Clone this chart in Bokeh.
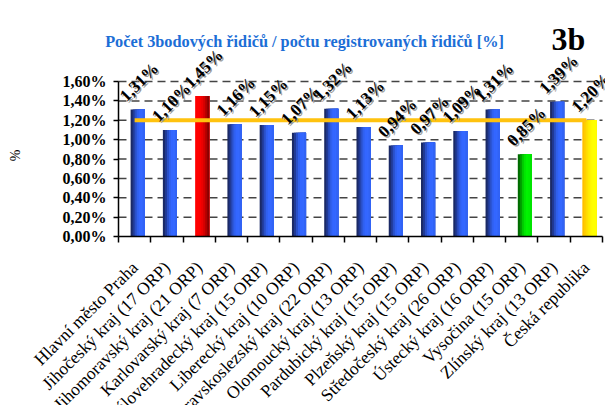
from math import pi
from bokeh.plotting import figure
from bokeh.models import (ColumnDataSource, Range1d, FixedTicker, Label,
                          CustomJSTickFormatter)
from bokeh.core.properties import value
from bokeh.embed import file_html
from bokeh.resources import INLINE

# ---------------- data ----------------
categories = [
    "Hlavní město Praha", "Jihočeský kraj (17 ORP)", "Jihomoravský kraj (21 ORP)",
    "Karlovarský kraj (7 ORP)", "Královehradecký kraj (15 ORP)",
    "Liberecký kraj (10 ORP)", "Moravskoslezský kraj (22 ORP)",
    "Olomoucký kraj (13 ORP)", "Pardubický kraj (15 ORP)", "Plzeňský kraj (15 ORP)",
    "Středočeský kraj (26 ORP)", "Ústecký kraj (16 ORP)", "Vysočina (15 ORP)",
    "Zlínský kraj (13 ORP)", "Česká republika",
]
values = [1.31, 1.10, 1.45, 1.16, 1.15, 1.07, 1.32, 1.13, 0.94, 0.97, 1.09,
          1.31, 0.85, 1.39, 1.20]
bar_kind = ["blue", "blue", "red", "blue", "blue", "blue", "blue", "blue", "blue",
            "blue", "blue", "blue", "green", "blue", "yellow"]
y_ticks = [0.0, 0.2, 0.4, 0.6, 0.8, 1.0, 1.2, 1.4, 1.6]
national_value = values[-1]
title_text = "Počet 3bodových řidičů / počtu registrovaných řidičů [%]"
corner_text = "3b"
y_label = "%"

# ---------------- styling / layout ----------------
SERIF = "Liberation Serif"
gradients = {
    "blue":   ["#1b2a66", "#213a95", "#2a50c8", "#3060ee", "#3366ff", "#3468ff", "#3163f5"],
    "red":    ["#ff0000", "#ff0000", "#fa0000", "#ec0000", "#d40000", "#b00000", "#8a0000"],
    "green":  ["#006a00", "#009a00", "#00c800", "#00e600", "#00f400", "#00f000", "#00e400"],
    "yellow": ["#ffc000", "#ffd000", "#ffe000", "#ffee00", "#fffa00", "#ffff00", "#ffff00"],
}
W, H = 605, 405
PLOT_L, PLOT_R = 118, 602       # pixel extent of the category axis
PLOT_B, PLOT_T = 236, 81        # pixel of 0.00 and of 1.60

n = len(categories)
x_idx = list(range(n))
boundaries = [i - 0.5 for i in range(n + 1)]
ppx = (PLOT_R - PLOT_L) / n
ppy = (PLOT_B - PLOT_T) / y_ticks[-1]
x0 = -0.5 - PLOT_L / ppx
x1 = n - 0.5 + (W - PLOT_R) / ppx
y0 = -(H - PLOT_B) / ppy
y1 = PLOT_B / ppy

p = figure(width=W, height=H, output_backend="svg", toolbar_location=None,
           x_range=Range1d(x0, x1), y_range=Range1d(y0, y1),
           min_border_left=0, min_border_right=0, min_border_top=0,
           min_border_bottom=0)
p.title.visible = False
p.outline_line_color = None
p.background_fill_color = "white"
p.border_fill_color = "white"
p.xgrid.visible = False
p.ygrid.visible = False

# dashed gridlines only across the plot area
g = y_ticks[1:]
p.segment(x0=[-0.5] * len(g), x1=[n - 0.5] * len(g), y0=g, y1=g,
          line_color="#444444", line_dash="8 5", line_width=1.5)

# y axis
ya = p.yaxis[0]
ya.fixed_location = -0.5
ya.ticker = FixedTicker(ticks=y_ticks)
ya.bounds = (0, y_ticks[-1])
ya.formatter = CustomJSTickFormatter(code="return tick.toFixed(2).replace('.', ',') + '%';")
ya.major_label_text_font = SERIF
ya.major_label_text_font_style = "bold"
ya.major_label_text_font_size = "16px"
ya.major_label_text_color = "black"
ya.major_label_standoff = 7
ya.major_tick_out = 5
ya.major_tick_in = 0
ya.minor_tick_line_color = None
ya.axis_line_width = 1.5
ya.axis_line_color = "black"
ya.major_tick_line_width = 1.5

# x axis
xa = p.xaxis[0]
xa.fixed_location = 0
xa.bounds = (-0.5, n - 0.5)
xa.ticker = FixedTicker(ticks=x_idx, minor_ticks=boundaries)
xa.major_label_overrides = {i: c for i, c in zip(x_idx, categories)}
xa.major_label_orientation = pi / 4
xa.major_label_text_font = SERIF
xa.major_label_text_font_size = "17.5px"
xa.major_label_text_color = "black"
xa.major_label_standoff = 22
xa.major_tick_line_color = None
xa.minor_tick_out = 6
xa.minor_tick_in = 0
xa.minor_tick_line_width = 1.5
xa.minor_tick_line_color = "black"
xa.axis_line_width = 1.5
xa.axis_line_color = "black"

# bars drawn as overlapping gradient strips
n_strips = 7
bar_w = 0.4375
bar_shift = 0.094
strip_w = bar_w / n_strips
for k in range(n_strips):
    src = ColumnDataSource(dict(
        x=[i + bar_shift - bar_w / 2 + k * strip_w for i in x_idx],
        right=[i + bar_shift + bar_w / 2 for i in x_idx],
        top=values,
        color=[gradients[b][k] for b in bar_kind]))
    p.quad(left="x", right="right", top="top", bottom=0, source=src,
           fill_color="color", line_color=None)

# national average line
p.line(x=x_idx, y=[national_value] * n, line_color="#ffc20e", line_width=4)

# value labels (with shadow)
lab_src = ColumnDataSource(dict(
    x=x_idx, y=values,
    text=[f"{v:.2f}".replace(".", ",") + "%" for v in values]))
p.text(x="x", y="y", text="text", source=lab_src, angle=pi / 4,
       x_offset=-10.5, y_offset=-9.5, text_color="#9a9a9a",
       text_font=value(SERIF), text_font_style="bold", text_font_size="17px",
       text_align="left", text_baseline="alphabetic")
p.text(x="x", y="y", text="text", source=lab_src, angle=pi / 4,
       x_offset=-12, y_offset=-11, text_color="black",
       text_font=value(SERIF), text_font_style="bold", text_font_size="17px",
       text_align="left", text_baseline="alphabetic")

# title, corner tag, y-axis label
p.add_layout(Label(x=304, y=H - 41, x_units="screen", y_units="screen", text=title_text,
                   text_font=SERIF, text_font_style="bold", text_font_size="16.3px",
                   text_color="#1c6ed6", text_align="center",
                   text_baseline="alphabetic"))
p.add_layout(Label(x=551, y=H - 38, x_units="screen", y_units="screen", text=corner_text,
                   text_font=SERIF, text_font_style="bold", text_font_size="32px",
                   text_color="black", text_align="left",
                   text_baseline="alphabetic"))
p.add_layout(Label(x=15, y=H - 155, x_units="screen", y_units="screen", text=y_label,
                   angle=pi / 2, text_font=SERIF, text_font_size="14px",
                   text_color="black", text_align="center",
                   text_baseline="middle"))

open("out.html", "w").write(file_html(p, INLINE))
